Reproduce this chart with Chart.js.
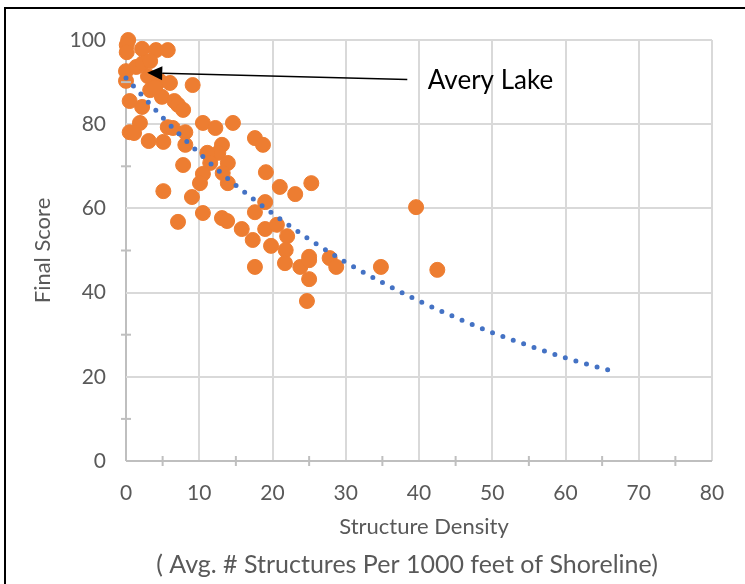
<!DOCTYPE html>
<html>
<head>
<meta charset="utf-8">
<script src="https://cdn.jsdelivr.net/npm/chart.js@4.4.1/dist/chart.umd.min.js"></script>
<style>
  body { margin: 0; background: #fff; }
  canvas { display: block; }
</style>
</head>
<body>
<canvas id="myChart" width="745" height="584"></canvas>
<script>
// lake survey: structure density vs final score
const densityX = [
  0.3, 0.1, 0.1, 2.2, 4.1, 5.7, 0.0, 0.0, 1.4, 2.3,
  3.3, 3.0, 4.6, 6.0, 9.1, 0.5, 2.2, 4.9, 6.6, 7.1,
  7.8, 5.7, 6.4, 8.1, 1.9, 0.5, 1.1, 3.1, 5.1, 8.1,
  10.5, 12.2, 14.6, 7.8, 7.1, 5.1, 13.1, 12.6, 11.1, 11.5,
  13.9, 13.2, 13.9, 10.5, 10.1, 9.0, 10.5, 13.1, 13.8, 15.8,
  17.3, 17.6, 17.6, 19.0, 19.1, 17.6, 18.7, 21.0, 23.1, 25.3,
  19.0, 20.6, 19.8, 22.0, 21.8, 21.7, 23.8, 25.0, 25.0, 25.0,
  24.7, 27.8, 28.7, 34.8, 39.6, 42.5, 3.3, 4.0
];
const finalScore = [
  100, 98.8, 97.1, 97.9, 97.6, 97.6, 92.6, 90.3, 93.6, 94.5,
  95.0, 91.4, 90.3, 89.8, 89.3, 85.5, 84.1, 86.5, 85.5, 84.6,
  83.4, 79.3, 79.1, 78.1, 80.3, 78.1, 77.9, 76.0, 75.8, 75.1,
  80.3, 79.1, 80.3, 70.3, 56.8, 64.1, 75.1, 73.2, 73.2, 70.8,
  70.8, 68.4, 66.0, 68.2, 66.0, 62.7, 58.9, 57.7, 57.0, 55.1,
  52.5, 46.1, 59.1, 61.5, 68.6, 76.7, 75.1, 65.1, 63.4, 66.0,
  55.1, 56.1, 51.1, 53.4, 50.1, 47.0, 46.1, 48.5, 47.7, 43.2,
  38.0, 48.2, 46.1, 46.1, 60.3, 45.4, 88.1, 88.8
];

// dotted trendline
const trendX = [0, 5, 10, 15, 20, 25, 30, 35, 40, 45, 50, 55, 60, 66.5];
const trendY = [91, 81.6, 73.1, 65.5, 58.8, 52.7, 47.2, 42.4, 38.0, 34.1, 30.5, 27.4, 24.5, 21.3];

const xTicks = [0, 10, 20, 30, 40, 50, 60, 70, 80];
const yTicks = [0, 20, 40, 60, 80, 100];
const xMinor = [5, 15, 25, 35, 45, 55, 65, 75];
const yMinor = [10, 30, 50, 70, 90];

const xTitle = "Structure Density";
const xSubTitle = "( Avg. # Structures Per 1000 feet of Shoreline)";
const calloutText = "Avery Lake";
const calloutTail = { x: 38.4, y: 90.6 };
const calloutTip = { x: 2.9, y: 92.2 };
const calloutLabel = { x: 41.2, y: 90.4 };

const FONT = "Lato, 'Open Sans', sans-serif";
const TXT = "#595959";

const scatterData = densityX.map((x, i) => ({ x: x, y: finalScore[i] }));
const trendData = trendX.map((x, i) => ({ x: x, y: trendY[i] }));

const extras = {
  id: "extras",
  afterDatasetsDraw(chart) {
    const ctx = chart.ctx;
    const xs = chart.scales.x, ys = chart.scales.y;
    const area = chart.chartArea;
    const mid = (area.left + area.right) / 2;
    ctx.save();
    // minor tick marks across the axes
    ctx.strokeStyle = "#bfbfbf";
    ctx.lineWidth = 2;
    xMinor.forEach(v => {
      const px = xs.getPixelForValue(v);
      ctx.beginPath();
      ctx.moveTo(px, area.bottom - 5);
      ctx.lineTo(px, area.bottom + 5);
      ctx.stroke();
    });
    yMinor.forEach(v => {
      const py = ys.getPixelForValue(v);
      ctx.beginPath();
      ctx.moveTo(area.left - 5, py);
      ctx.lineTo(area.left + 5, py);
      ctx.stroke();
    });

    // x axis title, two lines (second one is bigger in the original)
    ctx.fillStyle = TXT;
    ctx.textAlign = "center";
    ctx.textBaseline = "middle";
    ctx.font = "22px " + FONT;
    ctx.fillText(xTitle, mid + 5, chart.height - 57);
    ctx.font = "25px " + FONT;
    ctx.fillText(xSubTitle, mid - 12, chart.height - 19);

    // callout arrow
    const x1 = xs.getPixelForValue(calloutTail.x), y1 = ys.getPixelForValue(calloutTail.y);
    const x2 = xs.getPixelForValue(calloutTip.x), y2 = ys.getPixelForValue(calloutTip.y);
    const ang = Math.atan2(y2 - y1, x2 - x1);
    const headLen = 15, headW = 7;
    const bx = x2 - headLen * Math.cos(ang), by = y2 - headLen * Math.sin(ang);
    ctx.strokeStyle = "#000";
    ctx.lineWidth = 1.5;
    ctx.beginPath();
    ctx.moveTo(x1, y1);
    ctx.lineTo(bx, by);
    ctx.stroke();
    ctx.fillStyle = "#000";
    ctx.beginPath();
    ctx.moveTo(x2, y2);
    ctx.lineTo(bx + headW * Math.sin(ang), by - headW * Math.cos(ang));
    ctx.lineTo(bx - headW * Math.sin(ang), by + headW * Math.cos(ang));
    ctx.closePath();
    ctx.fill();

    ctx.font = "26px " + FONT;
    ctx.textAlign = "left";
    ctx.fillText(calloutText, xs.getPixelForValue(calloutLabel.x), ys.getPixelForValue(calloutLabel.y));

    // frame of the pasted picture
    ctx.fillRect(4, 7, 2, chart.height);
    ctx.fillRect(4, 7, chart.width, 2);
    ctx.restore();
  }
};

new Chart("myChart", {
  type: "scatter",
  data: {
    datasets: [{
      type: "line",
      data: trendData,
      borderColor: "#4472C4",
      borderWidth: 5,
      borderDash: [0, 11],
      borderCapStyle: "round",
      pointRadius: 0,
      fill: false,
      tension: 0.4,
      cubicInterpolationMode: "monotone",
      clip: false,
      order: 0
    }, {
      data: scatterData,
      backgroundColor: "#ED7D31",
      borderColor: "#ED7D31",
      borderWidth: 1,
      pointRadius: 7.5,
      clip: false,
      order: 1
    }]
  },
  options: {
    responsive: false,
    animation: false,
    layout: { padding: { left: 0, top: 40, right: 33, bottom: 0 } },
    plugins: { legend: { display: false }, tooltip: { enabled: false } },
    scales: {
      x: {
        type: "linear",
        min: 0, max: 80,
        afterBuildTicks: s => { s.ticks = xTicks.map(v => ({ value: v })); },
        afterFit: s => { s.height = 123; },
        grid: {
          color: c => c.tick && c.tick.value === 0 ? "#bfbfbf" : "#d9d9d9",
          lineWidth: 2, drawTicks: false
        },
        border: { display: false },
        ticks: { color: TXT, font: { family: FONT, size: 21 }, padding: 20, maxRotation: 0 }
      },
      y: {
        type: "linear",
        min: 0, max: 100,
        afterBuildTicks: s => { s.ticks = yTicks.map(v => ({ value: v })); },
        afterFit: s => { s.width = 126; },
        grid: {
          color: c => c.tick && c.tick.value === 0 ? "#bfbfbf" : "#d9d9d9",
          lineWidth: 2, drawTicks: false
        },
        border: { display: false },
        ticks: { color: TXT, font: { family: FONT, size: 21 }, padding: 20 },
        title: {
          display: true,
          text: "Final Score",
          color: TXT,
          font: { family: FONT, size: 22 },
          padding: { top: 30, bottom: 0 }
        }
      }
    }
  },
  plugins: [extras]
});
</script>
</body>
</html>
